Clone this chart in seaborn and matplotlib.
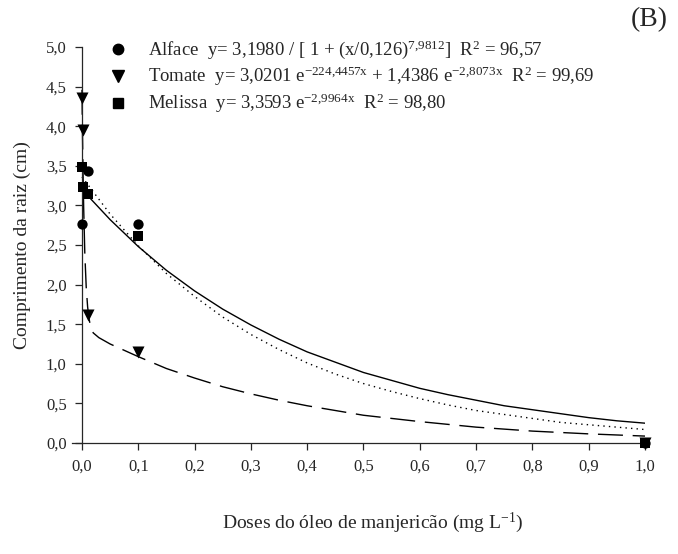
import numpy as np
import pandas as pd
import matplotlib
matplotlib.use("Agg")
import matplotlib.pyplot as plt
import seaborn as sns
from matplotlib.lines import Line2D
from matplotlib.ticker import FuncFormatter

# observed points (dose, root length) per species
alface_x = [0.0, 0.01, 0.1, 1.0]
alface_y = [2.77, 3.44, 2.76, 0.0]
tomate_x = [0.0, 0.001, 0.01, 0.1, 1.0]
tomate_y = [4.36, 3.95, 1.62, 1.15, 0.0]
melissa_x = [0.0, 0.001, 0.01, 0.1, 1.0]
melissa_y = [3.49, 3.23, 3.14, 2.61, 0.0]

# fitted curves
curve_x = [0.0, 0.05, 0.1, 0.15, 0.2, 0.25, 0.3, 0.35, 0.4, 0.45, 0.5,
           0.55, 0.6, 0.65, 0.7, 0.75, 0.8, 0.85, 0.9, 0.95, 1.0]
alface_fit = [3.20, 2.82, 2.48, 2.18, 1.92, 1.69, 1.49, 1.31, 1.15, 1.02, 0.89,
              0.79, 0.69, 0.61, 0.54, 0.47, 0.42, 0.37, 0.32, 0.28, 0.25]
melissa_fit = [3.36, 2.89, 2.49, 2.14, 1.85, 1.59, 1.37, 1.18, 1.01, 0.87, 0.75,
               0.65, 0.56, 0.48, 0.41, 0.36, 0.31, 0.26, 0.23, 0.20, 0.17]
tomate_fit_x = [0.0, 0.001, 0.002, 0.003, 0.005, 0.0075, 0.01, 0.0125, 0.015,
                0.02, 0.03, 0.05, 0.1, 0.15, 0.2, 0.25, 0.3, 0.35, 0.4, 0.5,
                0.6, 0.7, 0.8, 0.9, 1.0]
tomate_fit = [4.46, 3.85, 3.36, 2.97, 2.40, 1.97, 1.72, 1.57, 1.48,
              1.39, 1.33, 1.25, 1.09, 0.94, 0.82, 0.71, 0.62, 0.54, 0.47, 0.35,
              0.27, 0.20, 0.15, 0.115, 0.087]

labels = [
    r"Alface  y= 3,1980 / [ 1 + (x/0,126)$^{7{,}9812}$]  R$^{2}$ = 96,57",
    r"Tomate  y= 3,0201 e$^{-224{,}4457x}$ + 1,4386 e$^{-2{,}8073x}$  R$^{2}$ = 99,69",
    r"Melissa  y= 3,3593 e$^{-2{,}9964x}$  R$^{2}$ = 98,80",
]

sns.set_style("ticks")
plt.rcParams["font.family"] = ["Liberation Serif", "DejaVu Serif"]
plt.rcParams["mathtext.fontset"] = "custom"
plt.rcParams["mathtext.rm"] = "Liberation Serif"
plt.rcParams["mathtext.it"] = "Liberation Serif"
plt.rcParams["mathtext.default"] = "regular"

fig = plt.figure(figsize=(6.78, 5.54), dpi=100)
ax = fig.add_axes([0.1068, 0.2004, 0.8445, 0.7148])

sns.lineplot(x=curve_x, y=alface_fit, ax=ax, color="black", lw=1.0)
sns.lineplot(x=curve_x, y=melissa_fit, ax=ax, color="black", lw=1.0,
             linestyle=(0, (1, 3)))
sns.lineplot(x=tomate_fit_x, y=tomate_fit, ax=ax, color="black", lw=1.0,
             linestyle=(0, (18, 7)))

kw = dict(ax=ax, color="black", edgecolor="black", linewidth=0, clip_on=False, zorder=5)
sns.scatterplot(x=alface_x, y=alface_y, marker="o", s=55, **kw)
sns.scatterplot(x=tomate_x, y=tomate_y, marker="v", s=75, **kw)
sns.scatterplot(x=melissa_x, y=melissa_y, marker="s", s=50, **kw)

ax.set_xlim(-0.017, 1.0)
ax.set_ylim(0, 5.0)
ax.spines["left"].set_position(("data", 0))
ax.spines["right"].set_visible(False)
ax.spines["top"].set_visible(False)
ax.spines["left"].set_linewidth(0.9)
ax.spines["bottom"].set_linewidth(0.9)
ax.set_xticks(np.arange(0, 1.01, 0.1))
ax.set_yticks(np.arange(0, 5.01, 0.5))
fmt = FuncFormatter(lambda v, p: f"{v:.1f}".replace(".", ","))
ax.xaxis.set_major_formatter(fmt)
ax.yaxis.set_major_formatter(fmt)
ax.tick_params(axis="both", labelsize=12, length=5, width=0.9, direction="out", pad=6)

ax.set_xlabel(r"Doses do óleo de manjericão (mg L$^{-1}$)", fontsize=14)
ax.xaxis.set_label_coords(0.525, -0.17)
ax.set_ylabel("Comprimento da raiz (cm)", fontsize=14)
ax.yaxis.set_label_coords(-0.073, 0.5)

handles = [
    Line2D([], [], marker="o", color="black", ls="", ms=7.5),
    Line2D([], [], marker="v", color="black", ls="", ms=8.5),
    Line2D([], [], marker="s", color="black", ls="", ms=7),
]
ax.legend(handles, labels, loc="upper left", bbox_to_anchor=(0.051, 1.04),
          frameon=False, fontsize=13.5, handletextpad=1.1, labelspacing=0.2,
          handlelength=1.0, borderaxespad=0)

fig.text(0.985, 0.965, "(B)", fontsize=20, ha="right", va="center")

fig.savefig("out.png", dpi=100)
